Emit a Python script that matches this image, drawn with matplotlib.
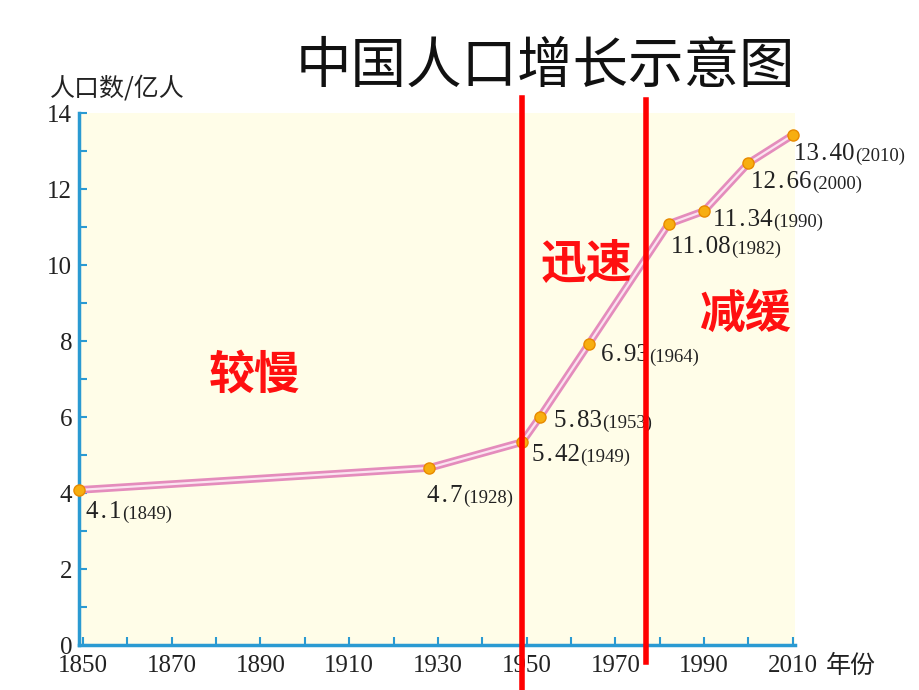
import matplotlib.pyplot as plt
from matplotlib.ticker import MultipleLocator, FixedLocator

plt.rcParams['font.family'] = ['Noto Sans CJK SC', 'DejaVu Sans']

years = [1849, 1928, 1949, 1953, 1964, 1982, 1990, 2000, 2010]
# heights as drawn in the picture (the printed labels differ a little)
population = [4.08, 4.66, 5.34, 6.0, 7.92, 11.08, 11.42, 12.68, 13.42]
value_labels = ['4.1', '4.7', '5.42', '5.83', '6.93', '11.08', '11.34', '12.66', '13.40']
# label offsets in points (dx, dy) from the point to the text baseline
offsets = [(5.5, -20), (-1.5, -24.5), (7, -13.7), (10, -7.2), (8.6, -12),
           (1.5, -21), (6.5, -11), (2, -18), (0.7, -18)]

stage_years = [1949, 1977]
stage_names = ['较慢', '迅速', '减缓']

fig = plt.figure(figsize=(9.2, 6.9), dpi=100)
ax = fig.add_axes([0.0859, 0.0652, 0.7782, 0.7710])
ax.set_facecolor('#FFFDE8')

ax.plot(years, population, color='#E48CBC', lw=5.5, solid_capstyle='round', zorder=3)
ax.plot(years, population, color='#FBE3F0', lw=1.6, zorder=4)
ax.plot(years, population, 'o', ms=8, mfc='#F7AE10', mec='#E88A00', mew=1, zorder=5, clip_on=False)

for x, y, v, (dx, dy) in zip(years, population, value_labels, offsets):
    t = ax.annotate(v.replace('.', '\u200a.\u200a'), (x, y), xytext=(dx, dy), textcoords='offset points',
                    fontsize=18, family='Liberation Serif', color='#222222', zorder=6,
                    va='baseline')
    ax.annotate('(%d)' % x, xy=(1, 0), xycoords=t, xytext=(0.5, 0), textcoords='offset points',
                fontsize=13.5, family='Liberation Serif', color='#222222', zorder=6,
                va='bottom')

ax.set_xlim(1849.1, 2010.5)
ax.set_ylim(0, 14)
ax.xaxis.set_major_locator(FixedLocator(range(1850, 2011, 20)))
ax.xaxis.set_minor_locator(FixedLocator(range(1860, 2011, 20)))
ax.yaxis.set_major_locator(MultipleLocator(2))
ax.yaxis.set_minor_locator(MultipleLocator(1))

blue = '#2A9AD2'
for s in ['top', 'right']:
    ax.spines[s].set_visible(False)
for s in ['left', 'bottom']:
    ax.spines[s].set_color(blue)
    ax.spines[s].set_linewidth(2.5)
ax.tick_params(which='both', direction='in', color=blue, width=1.5, length=6)
ax.tick_params(axis='x', pad=7)
ax.tick_params(axis='y', pad=5)
for lab in ax.get_xticklabels() + ax.get_yticklabels():
    lab.set_family('Liberation Serif')
    lab.set_fontsize(18)
    lab.set_color('#222222')

# stage dividers
ax.plot([stage_years[0]] * 2, [-1.13, 14.4], color='#FF0000', lw=4, clip_on=False, zorder=7)
ax.plot([stage_years[1]] * 2, [-0.45, 14.35], color='#FF0000', lw=4, clip_on=False, zorder=7)

ax.text(1888.6, 7.1, stage_names[0], color='#FF1010', fontsize=33, fontweight='bold', ha='center', va='center')
ax.text(1963.5, 10.0, stage_names[1], color='#FF1010', fontsize=33, fontweight='bold', ha='center', va='center')
ax.text(1999.5, 8.7, stage_names[2], color='#FF1010', fontsize=33, fontweight='bold', ha='center', va='center')

fig.text(0.593, 0.903, '中国人口增长示意图', fontsize=40, fontweight='light',
         ha='center', va='center', color='#111111')
fig.text(0.054, 0.872, '人口数/亿人', fontsize=18, fontweight='light', ha='left', va='center', color='#222222')
fig.text(0.898, 0.035, '年份', fontsize=18, fontweight='light', ha='left', va='center', color='#222222')

fig.savefig('out.png', dpi=100)
